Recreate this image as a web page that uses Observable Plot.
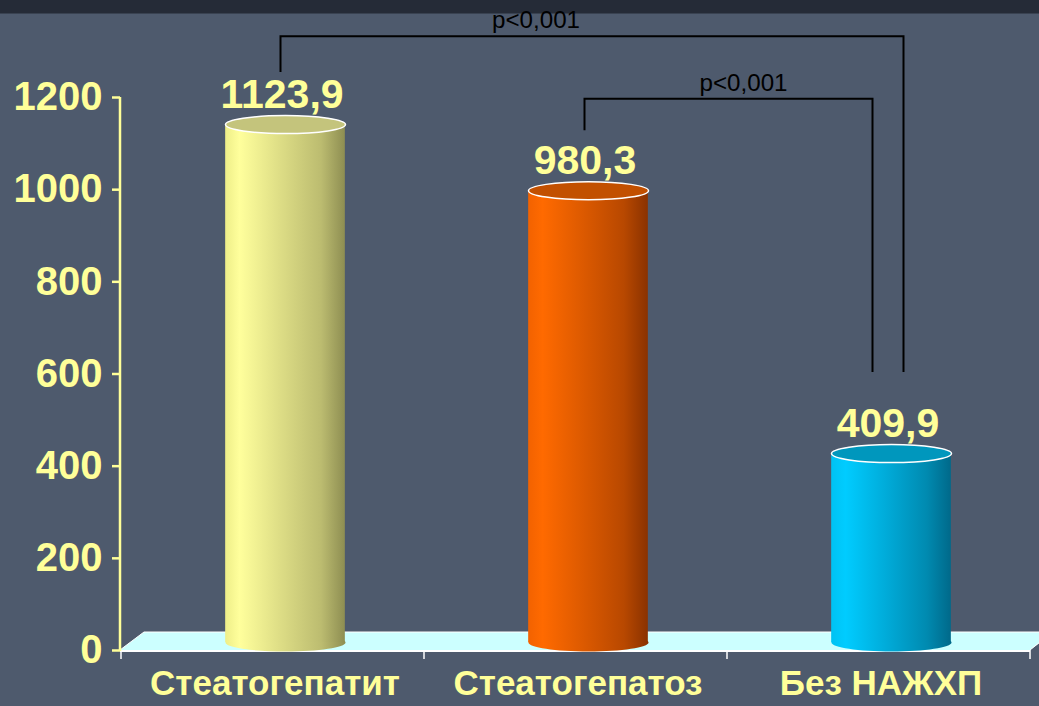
<!DOCTYPE html>
<html>
<head>
<meta charset="utf-8">
<script src="https://cdn.jsdelivr.net/npm/d3@7"></script>
<script src="https://cdn.jsdelivr.net/npm/@observablehq/plot@0.6"></script>
<style>
  html, body { margin: 0; padding: 0; background: #4e5a6d; }
  #chart svg { display: block; }
</style>
</head>
<body>
<div id="chart"></div>
<script>
// ---- data ----
const categories = ["Стеатогепатит", "Стеатогепатоз", "Без НАЖХП"];
const values = [1123.9, 980.3, 409.9];
const yTicks = [0, 200, 400, 600, 800, 1000, 1200];
const comparisons = [
  {from: "Стеатогепатит", to: "Без НАЖХП", label: "p<0,001"},
  {from: "Стеатогепатоз", to: "Без НАЖХП", label: "p<0,001"}
];

const data = categories.map((c, i) => ({cat: c, value: values[i]}));
const fmt = v => v.toFixed(1).replace(".", ",");

// ---- styling ----
const W = 1039, H = 706;
const FONT = "'Liberation Sans', Arial, sans-serif";
const LABEL = "#ffff99";
const grads = [
  {id: "gY", stops: [["0", "#eeee88"], ["0.12", "#ffff9c"], ["0.45", "#dede86"], ["0.8", "#bcbc70"], ["1", "#8e8e52"]], cap: "#c4c47c"},
  {id: "gO", stops: [["0", "#f26200"], ["0.12", "#ff6a00"], ["0.45", "#dd5a00"], ["0.8", "#b84800"], ["1", "#8a3200"]], cap: "#c25000"},
  {id: "gC", stops: [["0", "#00c2f2"], ["0.12", "#00ccff"], ["0.45", "#00acda"], ["0.8", "#008ab0"], ["1", "#00698a"]], cap: "#0097bd"}
];
const DEPTH_X = 24, DEPTH_Y = 18;      // floor depth projection
const CX = 12.5, CY = -8;              // cylinder offset (half depth)
const RX = 60, RY = 9;

const ellipseSymbol = {
  draw(ctx) {
    const k = 0.5523;
    ctx.moveTo(-RX, 0);
    ctx.bezierCurveTo(-RX, -RY * k, -RX * k, -RY, 0, -RY);
    ctx.bezierCurveTo(RX * k, -RY, RX, -RY * k, RX, 0);
    ctx.bezierCurveTo(RX, RY * k, RX * k, RY, 0, RY);
    ctx.bezierCurveTo(-RX * k, RY, -RX, RY * k, -RX, 0);
    ctx.closePath();
  }
};

const svgNS = "http://www.w3.org/2000/svg";
function el(name, attrs, parent) {
  const e = document.createElementNS(svgNS, name);
  for (const k in attrs) e.setAttribute(k, attrs[k]);
  if (parent) parent.appendChild(e);
  return e;
}

// background band + floor + axis lines
function frameMark(index, scales, values_, dims) {
  const g = el("g", {});
  const x = scales.x, y = scales.y;
  const [x0, x1] = x.range();
  const y0 = y(0), yTop = y(1200);
  el("rect", {x: 0, y: 0, width: dims.width, height: 13.5, fill: "#252b37"}, g);
  // floor
  const pts = [[x0, y0], [x0 + DEPTH_X, y0 - DEPTH_Y], [x1 + DEPTH_X, y0 - DEPTH_Y], [x1, y0]];
  el("polygon", {points: pts.map(p => p.join(",")).join(" "), fill: "#ccffff"}, g);
  el("polyline", {points: [[x0, y0], [x0 + DEPTH_X, y0 - DEPTH_Y], [dims.width, y0 - DEPTH_Y]].map(p => p.join(",")).join(" "), fill: "none", stroke: "#ffffff", "stroke-width": 1}, g);
  el("line", {x1: x1, y1: y0, x2: x1 + 10, y2: y0 - 8, stroke: "#ffffff", "stroke-width": 1}, g);
  // x axis line & ticks
  el("line", {x1: x0, y1: y0 + 1, x2: x1, y2: y0 + 1, stroke: "#ffffff", "stroke-width": 2}, g);
  const bw = x.bandwidth();
  categories.forEach((c, i) => {
    const xb = x(c);
    el("line", {x1: xb, y1: y0, x2: xb, y2: y0 + 9, stroke: "#ffffff", "stroke-width": 1.5}, g);
    if (i === categories.length - 1)
      el("line", {x1: xb + bw, y1: y0, x2: xb + bw, y2: y0 + 9, stroke: "#ffffff", "stroke-width": 1.5}, g);
  });
  // y axis line
  el("line", {x1: x0, y1: yTop, x2: x0, y2: y0 + 1, stroke: LABEL, "stroke-width": 2.5}, g);
  return g;
}

// significance brackets
const bracketLayout = [
  {top: 1332, leftFoot: 1254, rightFoot: 603, dxL: 8, dxR: 25, labelDx: -56},
  {top: 1196, leftFoot: 1128, rightFoot: 603, dxL: 9, dxR: -6, labelDx: 15}
];
function bracketMark(index, scales) {
  const g = el("g", {});
  const x = scales.x, y = scales.y, bw = x.bandwidth();
  comparisons.forEach((c, i) => {
    const L = bracketLayout[i];
    const xa = x(c.from) + bw / 2 + L.dxL;
    const xb = x(c.to) + bw / 2 + L.dxR;
    const yt = y(L.top);
    el("polyline", {points: `${xa},${y(L.leftFoot)} ${xa},${yt} ${xb},${yt} ${xb},${y(L.rightFoot)}`,
      fill: "none", stroke: "#000000", "stroke-width": 2}, g);
    const t = el("text", {x: (xa + xb) / 2 + L.labelDx, y: yt - 8, "text-anchor": "middle",
      "font-family": FONT, "font-size": 24, fill: "#000000", "textLength": 88, "lengthAdjust": "spacingAndGlyphs"}, g);
    t.textContent = c.label;
  });
  return g;
}

const marks = [frameMark,
  Plot.axisY(yTicks, {tickSize: 8, tickPadding: 10, stroke: LABEL, strokeWidth: 2.5, fill: LABEL,
    fontSize: 40, fontWeight: "bold", tickFormat: d => String(d), label: null}),
  Plot.axisX({tickSize: 0, tickPadding: 20, fill: LABEL, fontSize: 35, fontWeight: "bold", label: null, dx: 2})
];
const inset = (910 / 3 - 2 * RX) / 2;
data.forEach((d, i) => {
  const gr = grads[i];
  marks.push(Plot.dot([d], {x: "cat", y: () => 0, symbol: ellipseSymbol, fill: `url(#${gr.id})`, stroke: "none", dx: CX, dy: CY}));
  marks.push(Plot.barY([d], {x: "cat", y: "value", fill: `url(#${gr.id})`, insetLeft: inset, insetRight: inset, dx: CX, dy: CY}));
  marks.push(Plot.dot([d], {x: "cat", y: "value", symbol: ellipseSymbol, fill: gr.cap, stroke: "#ffffff", strokeWidth: 1.5, dx: CX, dy: CY}));
});
marks.push(Plot.text(data, {x: "cat", y: "value", text: d => fmt(d.value), dx: 9, dy: -38,
  fill: LABEL, fontSize: 41, fontWeight: "bold"}));
marks.push(bracketMark);

const chart = Plot.plot({
  width: W, height: H,
  marginLeft: 120, marginRight: 9, marginTop: 97, marginBottom: 56,
  style: {background: "#4e5a6d", fontFamily: FONT, color: LABEL},
  x: {domain: categories, padding: 0, axis: null},
  y: {domain: [0, 1200], axis: null},
  marks
});

// gradients
const defs = document.createElementNS(svgNS, "defs");
grads.forEach(gr => {
  const lg = el("linearGradient", {id: gr.id, x1: "0", y1: "0", x2: "1", y2: "0"}, defs);
  gr.stops.forEach(([o, c]) => el("stop", {offset: o, "stop-color": c}, lg));
});
chart.insertBefore(defs, chart.firstChild);
document.getElementById("chart").appendChild(chart);
</script>
</body>
</html>
